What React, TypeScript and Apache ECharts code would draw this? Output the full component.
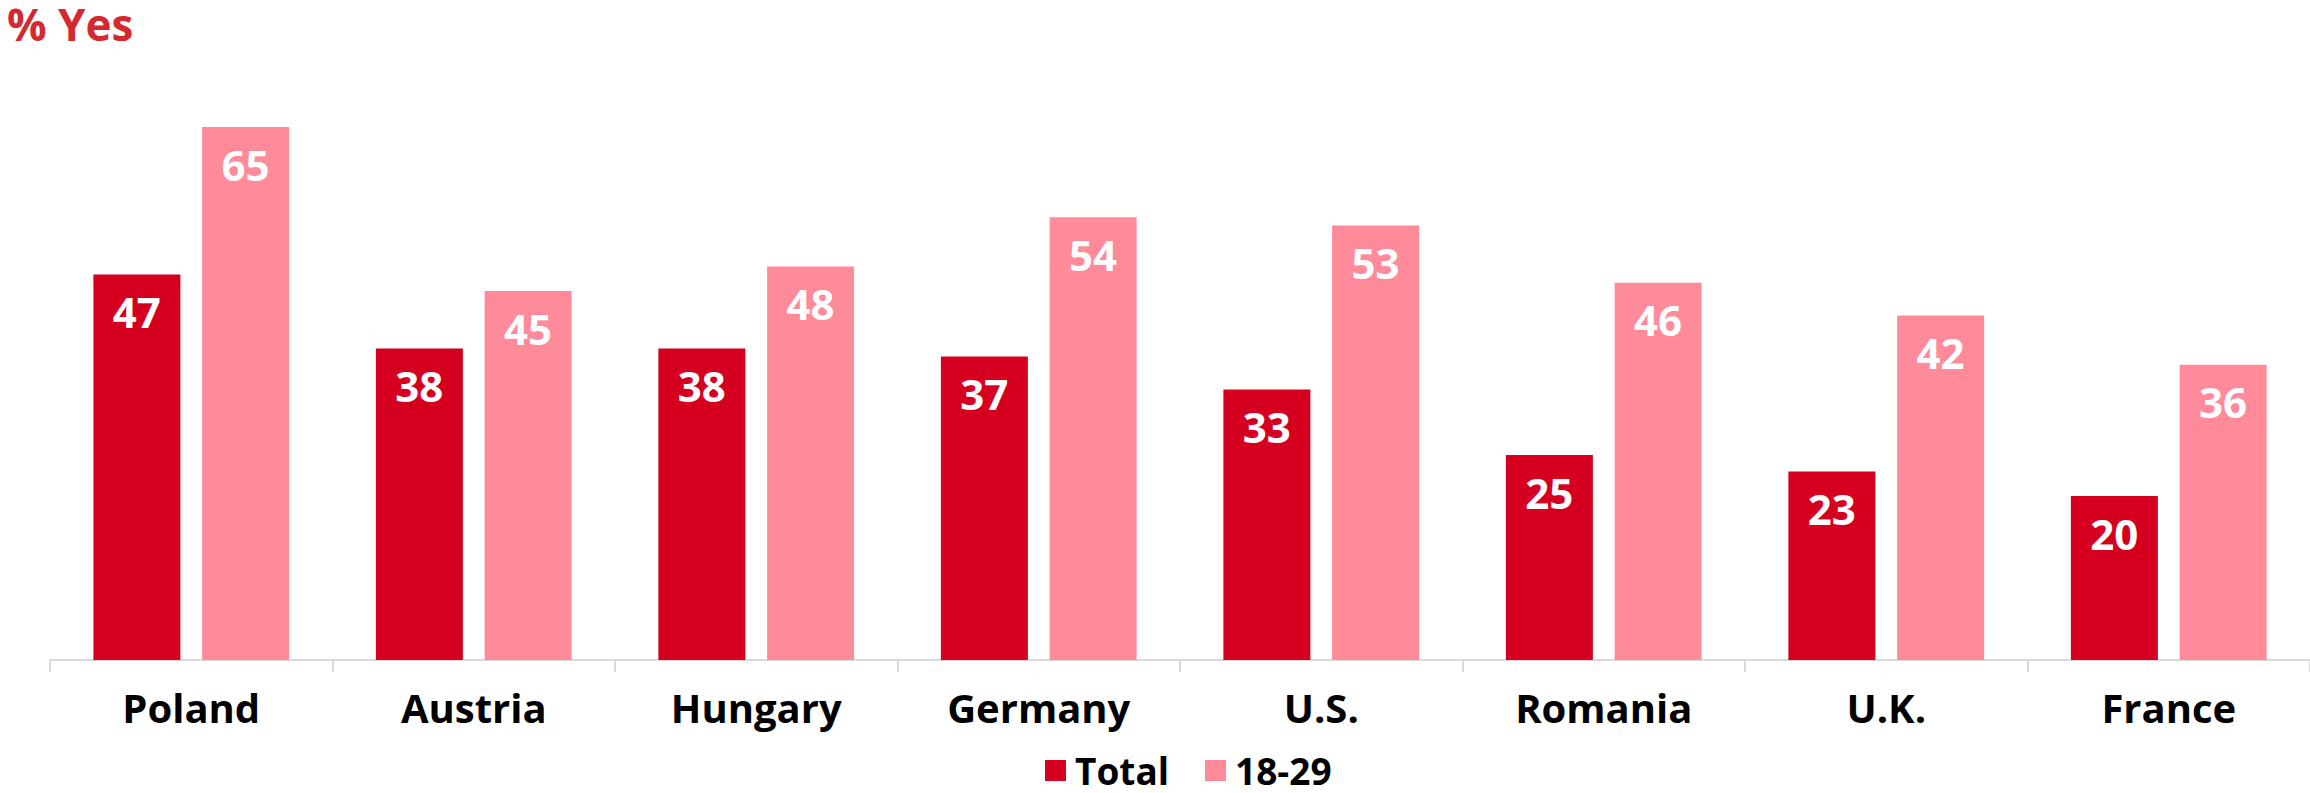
import React, { useEffect, useRef } from "react";
import * as echarts from "echarts";

const categories = ["Poland", "Austria", "Hungary", "Germany", "U.S.", "Romania", "U.K.", "France"];
const totalValues = [47, 38, 38, 37, 33, 25, 23, 20];
const youngValues = [65, 45, 48, 54, 53, 46, 42, 36];
const seriesNames = ["Total", "18-29"];
const titleText = "% Yes";

const FONT = "'Open Sans', 'Noto Sans', sans-serif";

export default function App() {
  const ref = useRef<HTMLDivElement>(null);
  useEffect(() => {
    if (!ref.current) return;
    const chart = echarts.init(ref.current, undefined, { renderer: "svg" });
    const label = {
      show: true,
      position: "insideTop",
      distance: 16,
      color: "#ffffff",
      fontFamily: FONT,
      fontWeight: "bold",
      fontSize: 42,
    };
    chart.setOption({
      animation: false,
      backgroundColor: "#ffffff",
      title: {
        text: titleText,
        left: 2,
        top: 2,
        padding: [0, 5, 0, 5],
        textStyle: { color: "#D42A2F", fontFamily: FONT, fontWeight: "bold", fontSize: 44, lineHeight: 44 },
      },
      legend: {
        left: 1040,
        top: 752,
        itemWidth: 21,
        itemHeight: 21,
        itemGap: 36,
        icon: "rect",
        padding: [0, 5, 0, 5],
        textStyle: { color: "#000000", fontFamily: FONT, fontWeight: "bold", fontSize: 37, lineHeight: 34, padding: [0, 0, 0, 4] },
        data: seriesNames,
      },
      grid: { left: 50, right: 0, top: 86, bottom: 133, containLabel: false },
      xAxis: {
        type: "category",
        data: categories,
        axisLine: { lineStyle: { color: "#D9D9D9", width: 2 } },
        axisTick: { show: true, length: 12, lineStyle: { color: "#D9D9D9", width: 2 } },
        axisLabel: { color: "#000000", fontFamily: FONT, fontWeight: "bold", fontSize: 40, margin: 27 },
      },
      yAxis: {
        type: "value",
        min: 0,
        max: 70,
        show: false,
        splitLine: { show: false },
      },
      series: [
        {
          name: seriesNames[0],
          type: "bar",
          data: totalValues,
          barWidth: 87,
          barGap: "25%",
          itemStyle: { color: "#D5001F" },
          label,
        },
        {
          name: seriesNames[1],
          type: "bar",
          data: youngValues,
          barWidth: 87,
          itemStyle: { color: "#FF8A99" },
          label,
        },
      ],
    });
    return () => chart.dispose();
  }, []);
  return (
    <div
      ref={ref}
      style={{ position: "fixed", left: 0, top: 0, width: 2310, height: 793 }}
    />
  );
}
